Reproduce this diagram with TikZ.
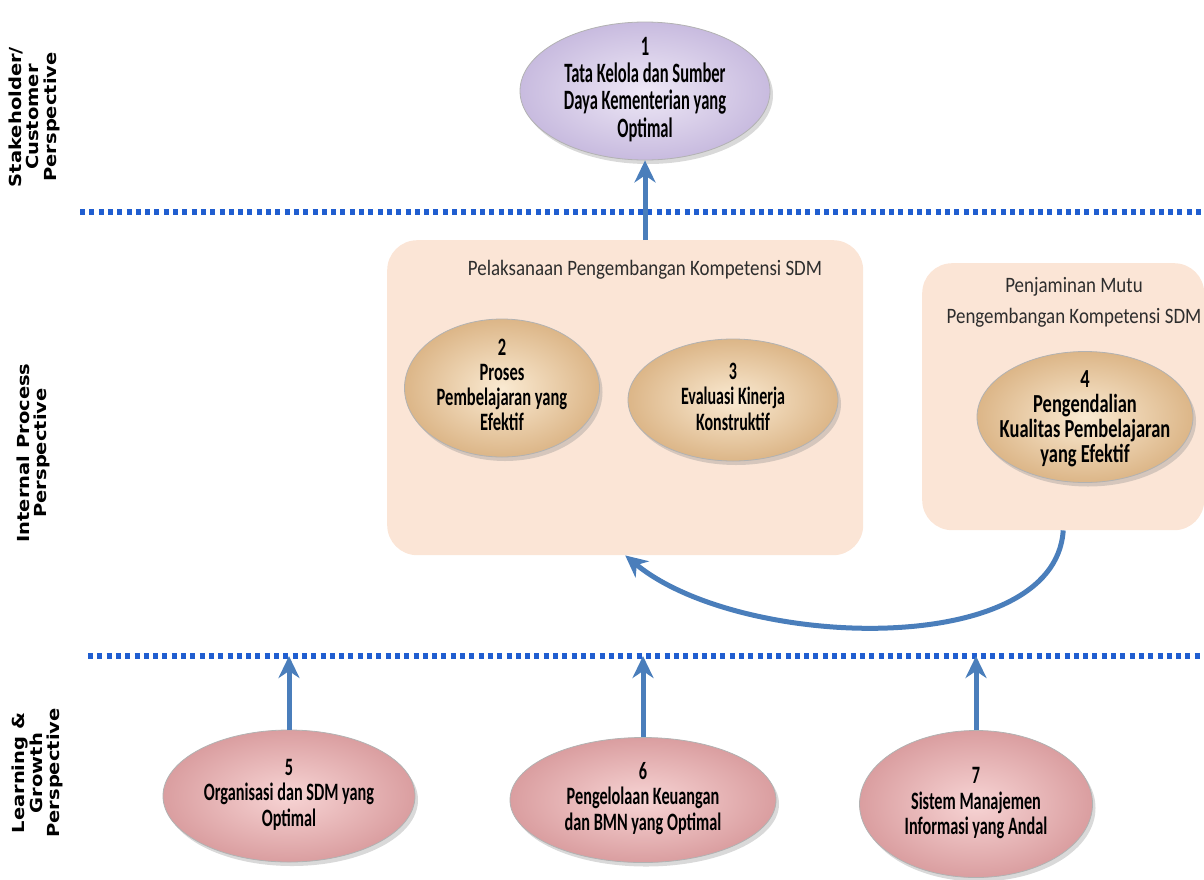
\documentclass[tikz,border=0pt]{standalone}
\usepackage{graphicx}
\usepackage{fontspec}
\setmainfont{Carlito}
\newfontfamily\labfont{DejaVu Sans}
\usetikzlibrary{shapes.geometric,shadows,arrows.meta}
\definecolor{boxfill}{RGB}{251,229,214}
\definecolor{arrblue}{RGB}{74,126,187}
\definecolor{dotblue}{RGB}{32,94,208}
\definecolor{lavin}{RGB}{238,232,246}
\definecolor{lavout}{RGB}{200,187,223}
\definecolor{peachin}{RGB}{250,234,210}
\definecolor{peachout}{RGB}{220,182,136}
\definecolor{pinkin}{RGB}{247,212,212}
\definecolor{pinkout}{RGB}{218,158,160}
\definecolor{titlegray}{RGB}{45,45,45}
\newcommand\ovaltext[2]{\scalebox{#1}[1]{\begin{tabular}{@{}c@{}}#2\end{tabular}}}
\newcommand\sidetext[1]{\scalebox{1}[0.85]{\begin{tabular}{@{}c@{}}#1\end{tabular}}}
\tikzset{
  oval/.style={ellipse, inner sep=0pt, draw=black!30, line width=0.8pt,
    drop shadow={shadow xshift=3pt, shadow yshift=-4pt, opacity=0.3}},
  ovallabel/.style={inner sep=0pt, text=black, font=\fontsize{25}{25}\selectfont\bfseries},
  lavoval/.style={oval, inner color=lavin, outer color=lavout},
  peachoval/.style={oval, inner color=peachin, outer color=peachout},
  pinkoval/.style={oval, inner color=pinkin, outer color=pinkout},
  panel/.style={fill=boxfill, rounded corners=30pt, inner sep=0pt, anchor=north west},
  paneltitle/.style={text=titlegray, font=\fontsize{22}{31}\selectfont, inner sep=0pt},
  arr/.style={draw=arrblue, line width=5pt, -{Stealth[length=22pt,width=21pt,inset=7pt]}},
  dotline/.style={draw=dotblue, line width=6pt, dash pattern=on 5pt off 4.3pt},
  sidelabel/.style={rotate=90, inner sep=0pt, text=black,
    font=\labfont\fontsize{19.5}{18}\selectfont\bfseries}
}
\begin{document}
\begin{tikzpicture}[x=1pt,y=-1pt]
\useasboundingbox (0,0) rectangle (1204,879);

% side labels
\node[sidelabel] (lab1) at (35,117) {\sidetext{Stakeholder/\\Customer\\Perspective}};
\node[sidelabel] (lab2) at (34,453) {\sidetext{Internal Process\\Perspective}};
\node[sidelabel] (lab3) at (38,773) {\sidetext{Learning \&\\Growth\\Perspective}};

% panels
\node[panel, minimum width=476pt, minimum height=315pt] (box1) at (387,240) {};
\node[panel, minimum width=282pt, minimum height=267pt] (box2) at (922,263) {};
\node[paneltitle] (t1) at (645,270) {\scalebox{0.86}[1]{Pelaksanaan Pengembangan Kompetensi SDM}};
\node[paneltitle] (t2) at (1074,302) {\scalebox{0.86}[1]{\begin{tabular}{@{}c@{}}Penjaminan Mutu\\Pengembangan Kompetensi SDM\end{tabular}}};

% dotted separators
\coordinate (upL) at (80,212);
\coordinate (upR) at (1204,212);
\coordinate (lowL) at (88,656);
\coordinate (lowR) at (1204,656);
\draw[dotline] (upL) -- (upR);
\draw[dotline] (lowL) -- (lowR);

% ellipses
\node[lavoval, minimum width=250pt, minimum height=138pt] (e1) at (645,91) {};
\node[peachoval, minimum width=195pt, minimum height=138pt] (e2) at (502,388) {};
\node[peachoval, minimum width=210pt, minimum height=122pt] (e3) at (733,400) {};
\node[peachoval, minimum width=216pt, minimum height=131pt] (e4) at (1085,417) {};
\node[pinkoval, minimum width=252pt, minimum height=132pt] (e5) at (289,796) {};
\node[pinkoval, minimum width=266pt, minimum height=125pt] (e6) at (643,800) {};
\node[pinkoval, minimum width=233pt, minimum height=147pt] (e7) at (976,804) {};

% ellipse texts
\node[ovallabel, font=\fontsize{28}{25}\selectfont\bfseries] (e1t) at (e1.center)
  {\ovaltext{0.59}{1\\Tata Kelola dan Sumber\\Daya Kementerian yang\\Optimal}};
\node[ovallabel] (e2t) at (e2.center)
  {\ovaltext{0.66}{2\\Proses\\Pembelajaran yang\\Efektif}};
\node[ovallabel] (e3t) at (e3.center)
  {\ovaltext{0.64}{3\\Evaluasi Kinerja\\Konstruktif}};
\node[ovallabel, font=\fontsize{26}{23}\selectfont\bfseries] (e4t) at ([yshift=-3pt]e4.center)
  {\ovaltext{0.71}{4\\Pengendalian\\Kualitas Pembelajaran\\yang Efektif}};
\node[ovallabel] (e5t) at (e5.center)
  {\ovaltext{0.65}{5\\Organisasi dan SDM yang\\Optimal}};
\node[ovallabel] (e6t) at (e6.center)
  {\ovaltext{0.65}{6\\Pengelolaan Keuangan\\dan BMN yang Optimal}};
\node[ovallabel] (e7t) at (e7.center)
  {\ovaltext{0.65}{7\\Sistem Manajemen\\Informasi yang Andal}};

% arrows
\draw[arr] (e1.south |- box1.north) -- (e1.south);
\draw[arr] (e5.north) -- (e5.north |- lowL);
\draw[arr] (e6.north) -- (e6.north |- lowL);
\draw[arr] (e7.north) -- (e7.north |- lowL);
\draw[arr] (box2.south) .. controls (1055,660) and (740,650) .. (box1.south);
\end{tikzpicture}
\end{document}
